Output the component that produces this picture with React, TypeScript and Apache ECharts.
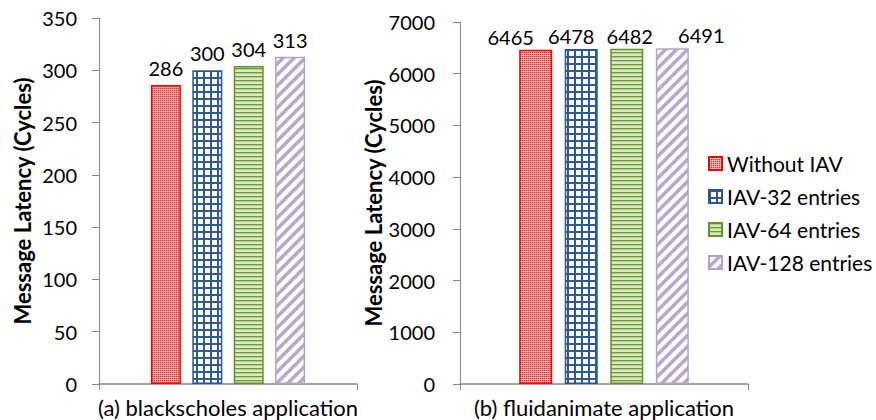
import React, { useEffect, useRef } from "react";
import * as echarts from "echarts";

const seriesNames = ["Without IAV", "IAV-32 entries", "IAV-64 entries", "IAV-128 entries"];
const blackscholesValues = [286, 300, 304, 313];
const fluidanimateValues = [6465, 6478, 6482, 6491];
const leftCategory = ["(a) blackscholes application"];
const rightCategory = ["(b) fluidanimate application"];
const yAxisTitle = "Message Latency (Cycles)";

const FONT = "Lato, 'Open Sans', sans-serif";
const borderColors = ["#FF0000", "#2C5490", "#5E9428", "#B3A2C7"];

function makeTile(w: number, h: number, draw: (c: CanvasRenderingContext2D) => void) {
  const cv = document.createElement("canvas");
  cv.width = w;
  cv.height = h;
  const ctx = cv.getContext("2d")!;
  draw(ctx);
  return { image: cv.toDataURL(), repeat: "repeat", imageWidth: w, imageHeight: h } as any;
}

function makePatterns() {
  const red = makeTile(4, 4, (c) => {
    c.fillStyle = "#ff9c9c";
    c.fillRect(0, 0, 4, 4);
    c.fillStyle = "#ff1f1f";
    c.fillRect(0, 0, 1, 1);
    c.fillRect(2, 0, 1, 1);
    c.fillRect(0, 2, 1, 1);
    c.fillRect(2, 2, 1, 1);
    c.fillStyle = "#ffffff";
    c.fillRect(1, 1, 1, 1);
    c.fillRect(3, 3, 1, 1);
  });
  const blue = makeTile(7, 7, (c) => {
    c.fillStyle = "#ffffff";
    c.fillRect(0, 0, 7, 7);
    c.fillStyle = "#2E5A94";
    c.fillRect(0, 0, 7, 2);
    c.fillRect(0, 0, 2, 7);
  });
  const green = makeTile(4, 4, (c) => {
    c.fillStyle = "#ffffff";
    c.fillRect(0, 0, 4, 4);
    c.fillStyle = "#6E9E36";
    c.fillRect(0, 0, 4, 1.5);
    c.fillStyle = "#b7d08f";
    c.fillRect(0, 1.5, 4, 1);
    c.fillRect(0, 3.5, 4, 0.5);
  });
  const purple = makeTile(11, 11, (c) => {
    c.fillStyle = "#ffffff";
    c.fillRect(0, 0, 11, 11);
    c.strokeStyle = "#B8A8CC";
    c.lineWidth = 3.5;
    c.lineCap = "square";
    for (const o of [-11, 0, 11]) {
      c.beginPath();
      c.moveTo(o - 2, 13);
      c.lineTo(o + 13, -2);
      c.stroke();
    }
  });
  return [red, blue, green, purple];
}

export default function App() {
  const ref = useRef<HTMLDivElement>(null);
  useEffect(() => {
    if (!ref.current) return;
    const chart = echarts.init(ref.current, null, { renderer: "svg" });
    const patterns = makePatterns();
    const axisColor = "#868686";
    const numStyle = { color: "#000", fontFamily: FONT, fontSize: 20 };
    const textStyle = { color: "#000", fontFamily: FONT, fontSize: 22 };

    const mkY = (gridIndex: number, max: number, interval: number, margin: number) => ({
      type: "value",
      gridIndex,
      min: 0,
      max,
      interval,
      name: yAxisTitle,
      nameLocation: "middle",
      nameGap: 66,
      nameRotate: 90,
      nameTextStyle: { color: "#000", fontFamily: FONT, fontSize: 22, fontWeight: "bold" },
      axisLine: { show: true, lineStyle: { color: axisColor, width: 1 } },
      axisTick: { show: true, length: 7, lineStyle: { color: axisColor } },
      splitLine: { show: false },
      axisLabel: { ...numStyle, margin, formatter: (v: number) => String(v) },
    });
    const mkX = (gridIndex: number, data: string[]) => ({
      type: "category",
      gridIndex,
      data,
      axisLine: { show: true, lineStyle: { color: axisColor, width: 1.5 } },
      axisTick: { show: true, length: 6, lineStyle: { color: axisColor } },
      axisLabel: { ...textStyle, margin: 12 },
    });

    const series: any[] = [];
    const addSeries = (idx: number, values: number[], barWidth: number, distance: number, shifts: number[]) => {
      values.forEach((v, i) => {
        series.push({
          type: "bar",
          name: seriesNames[i],
          xAxisIndex: idx,
          yAxisIndex: idx,
          data: [v],
          barWidth,
          barGap: "38%",
          itemStyle: { color: patterns[i], borderColor: borderColors[i], borderWidth: 1.5 },
          label: { show: true, position: "top", distance, offset: [shifts[i], 0], ...numStyle },
        });
      });
    };
    addSeries(0, blackscholesValues, 30, 7, [0, 0, 0, 0]);
    addSeries(1, fluidanimateValues, 33, 3, [-25, -10, 3, 29]);

    chart.setOption({
      animation: false,
      grid: [
        { left: 99, width: 258, top: 18, bottom: 36 },
        { left: 460, width: 288, top: 22, bottom: 36 },
      ],
      legend: {
        orient: "vertical",
        left: 703,
        top: 148,
        icon: "rect",
        itemWidth: 13,
        itemHeight: 13,
        itemGap: 12,
        textStyle: { color: "#000", fontFamily: FONT, fontSize: 21 },
        data: seriesNames,
      },
      xAxis: [mkX(0, leftCategory), mkX(1, rightCategory)],
      yAxis: [mkY(0, 350, 50, 22), mkY(1, 7000, 1000, 25)],
      series,
    });
    return () => chart.dispose();
  }, []);
  return <div ref={ref} style={{ width: 876, height: 420, position: "absolute", left: 0, top: 0, background: "#fff" }} />;
}
